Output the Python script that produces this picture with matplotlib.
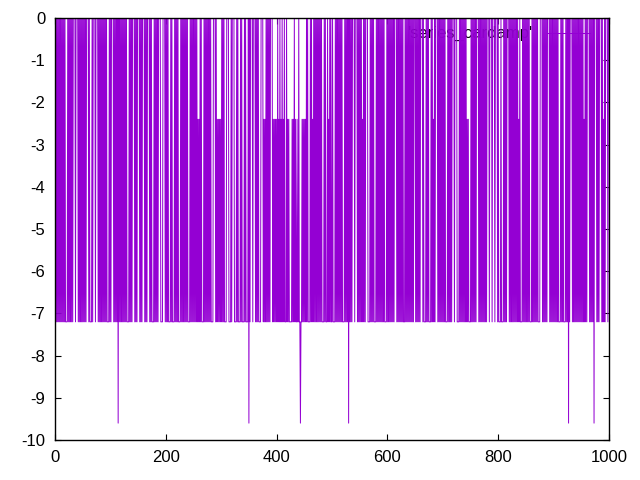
import numpy as np
import matplotlib
matplotlib.use("Agg")
import matplotlib.pyplot as plt
from matplotlib.lines import Line2D

# Each character is one sample; value = -2.4 * digit  (0 -> 0, 1 -> -2.4, 3 -> -7.2, 4 -> -9.6)
series_codes = (
    "03030303030303030303333030303030300003000030303030"
    "30303030000303333030000300003030303030303030333303"
    "03000030303030403030303030303033330303030000303030"
    "00030303000030303000030303333030303030000333300003"
    "03030333303033330303030333303030303030303333030303"
    "03030303131303033330303030303030333300003031313131"
    "30303033330000333303000033330303333030333303033330"
    "40300003000030303033330000313130303030300003131313"
    "13031303130313033303131333331313031331330334331313"
    "13130303333030313030303030303030333303033303130303"
    "30333303030303030303333030303040303030000300003030"
    "30303130303000033330303030333303030303030303033330"
    "30303030303030000303030303030333030303030303030300"
    "03030303030000303333030303333030313030000303030303"
    "03030333303030303000030000333303030303030303131333"
    "30303030303000030303030303030300003000030000300003"
    "03333033330303030000303030303030303031303333030303"
    "03030303333030303030303333000030303030300003030303"
    "03030303033330303033330303040300003030303030303030"
    "30303130303000030303030400003030300003031303000030"
)
step = -2.4
legend_label = "'series_cardamp'"
x_ticks = [0, 200, 400, 600, 800, 1000]
y_ticks = [0, -1, -2, -3, -4, -5, -6, -7, -8, -9, -10]

values = np.array([int(c) for c in series_codes]) * step
x = np.arange(len(values))

plt.rcParams['font.family'] = ['Liberation Sans', 'DejaVu Sans']
fig = plt.figure(figsize=(6.4, 4.8), dpi=100)
ax = fig.add_axes([55/640, 1-440/480, (609-55)/640, (440-18)/480])
color = '#9400D3'
ax.plot(x, values, color=color, lw=0.72, zorder=3)
ax.set_xlim(0, 1000)
ax.set_ylim(-10, 0)
ax.set_xticks(x_ticks)
ax.set_yticks(y_ticks)
ax.set_xticklabels([str(t) for t in x_ticks])
ax.set_yticklabels([str(t) for t in y_ticks])
ax.tick_params(direction='in', length=4.5, width=0.8, top=True, right=True,
               labelsize=12, colors='black', pad=7)
for s in ax.spines.values():
    s.set_linewidth(1.0)
    s.set_zorder(5)

# key (gnuplot style, top right)
ax.text(532/640, 1-33/480, legend_label, transform=fig.transFigure, ha='right', va='center',
        fontsize=12, color='black', zorder=1)
fig.lines.append(Line2D([547/640, 590/640], [1-33/480, 1-33/480], transform=fig.transFigure,
                        color=color, lw=0.72))

fig.savefig('out.png', dpi=100)
